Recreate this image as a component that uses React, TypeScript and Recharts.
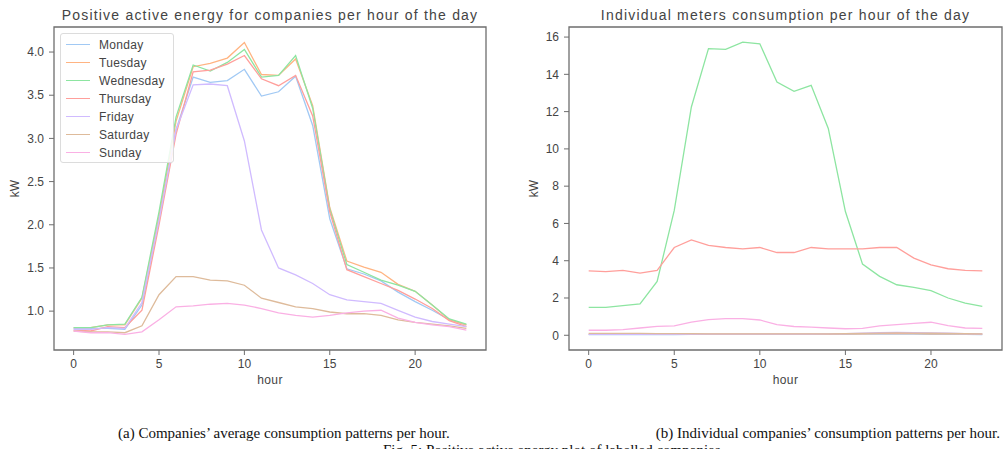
import React from "react"
import { LineChart, Line, XAxis, YAxis, ReferenceArea } from "recharts"

// hours of the day (x axis)
const hours = [0, 1, 2, 3, 4, 5, 6, 7, 8, 9, 10, 11, 12, 13, 14, 15, 16, 17, 18, 19, 20, 21, 22, 23]

// (a) average kW per weekday
const monday = [0.8, 0.8, 0.8, 0.79, 1.07, 2.05, 3.1, 3.71, 3.65, 3.67, 3.8, 3.49, 3.54, 3.72, 3.15, 2.07, 1.49, 1.43, 1.35, 1.22, 1.11, 1.01, 0.9, 0.84]
const tuesday = [0.81, 0.81, 0.84, 0.84, 1.15, 2.1, 3.2, 3.83, 3.87, 3.93, 4.11, 3.74, 3.73, 3.92, 3.38, 2.2, 1.58, 1.51, 1.45, 1.31, 1.23, 1.07, 0.9, 0.84]
const wednesday = [0.81, 0.81, 0.84, 0.85, 1.16, 2.15, 3.25, 3.85, 3.78, 3.88, 4.03, 3.71, 3.73, 3.96, 3.35, 2.18, 1.54, 1.45, 1.36, 1.3, 1.23, 1.07, 0.91, 0.85]
const thursday = [0.78, 0.77, 0.82, 0.81, 1.01, 2.0, 3.05, 3.77, 3.79, 3.86, 3.96, 3.69, 3.61, 3.73, 3.26, 2.15, 1.48, 1.4, 1.32, 1.24, 1.14, 1.03, 0.89, 0.82]
const friday = [0.79, 0.79, 0.81, 0.8, 1.1, 2.05, 3.1, 3.62, 3.63, 3.61, 2.97, 1.94, 1.5, 1.42, 1.32, 1.19, 1.13, 1.11, 1.09, 1.01, 0.93, 0.88, 0.85, 0.82]
const saturday = [0.77, 0.76, 0.76, 0.75, 0.83, 1.19, 1.4, 1.4, 1.36, 1.35, 1.3, 1.15, 1.1, 1.05, 1.03, 0.99, 0.97, 0.97, 0.95, 0.9, 0.87, 0.85, 0.83, 0.8]
const sunday = [0.77, 0.75, 0.75, 0.73, 0.76, 0.9, 1.05, 1.06, 1.08, 1.09, 1.07, 1.03, 0.98, 0.95, 0.93, 0.95, 0.98, 1.0, 1.01, 0.92, 0.87, 0.84, 0.82, 0.78]

// (b) individual meters, kW
const meterBlue = [0.04, 0.04, 0.04, 0.04, 0.04, 0.04, 0.05, 0.05, 0.05, 0.05, 0.05, 0.05, 0.05, 0.05, 0.05, 0.05, 0.06, 0.06, 0.06, 0.06, 0.05, 0.05, 0.05, 0.04]
const meterOrange = [0.06, 0.06, 0.06, 0.06, 0.06, 0.06, 0.06, 0.06, 0.06, 0.06, 0.06, 0.06, 0.06, 0.06, 0.06, 0.07, 0.08, 0.09, 0.09, 0.09, 0.08, 0.07, 0.07, 0.06]
const meterGreen = [1.5, 1.5, 1.59, 1.68, 2.89, 6.7, 12.25, 15.38, 15.34, 15.73, 15.64, 13.59, 13.09, 13.41, 11.1, 6.64, 3.82, 3.16, 2.71, 2.57, 2.39, 2.0, 1.73, 1.55]
const meterRed = [3.46, 3.41, 3.48, 3.34, 3.48, 4.71, 5.12, 4.82, 4.71, 4.64, 4.71, 4.44, 4.44, 4.71, 4.64, 4.64, 4.64, 4.71, 4.71, 4.14, 3.78, 3.57, 3.48, 3.46]
const meterPurple = [0.05, 0.05, 0.05, 0.05, 0.05, 0.05, 0.06, 0.06, 0.06, 0.06, 0.06, 0.06, 0.06, 0.06, 0.07, 0.09, 0.12, 0.14, 0.15, 0.14, 0.13, 0.11, 0.09, 0.08]
const meterBrown = [0.1, 0.1, 0.1, 0.1, 0.09, 0.09, 0.09, 0.08, 0.08, 0.08, 0.08, 0.08, 0.08, 0.08, 0.08, 0.09, 0.1, 0.12, 0.13, 0.12, 0.11, 0.1, 0.09, 0.08]
const meterPink = [0.27, 0.27, 0.3, 0.39, 0.48, 0.5, 0.7, 0.84, 0.89, 0.89, 0.82, 0.57, 0.47, 0.44, 0.39, 0.35, 0.37, 0.5, 0.57, 0.64, 0.7, 0.52, 0.39, 0.37]

const xTicks = [0, 5, 10, 15, 20]
const leftYTicks = [1.0, 1.5, 2.0, 2.5, 3.0, 3.5, 4.0]
const rightYTicks = [0, 2, 4, 6, 8, 10, 12, 14, 16]

// seaborn "pastel"
const C = {
  blue: "#a1c9f4",
  orange: "#ffb482",
  green: "#8de5a1",
  red: "#ff9f9b",
  purple: "#d0bbff",
  brown: "#debb9b",
  pink: "#fab0e4",
}

const daySeries = [
  { key: "monday", name: "Monday", color: C.blue, values: monday },
  { key: "tuesday", name: "Tuesday", color: C.orange, values: tuesday },
  { key: "wednesday", name: "Wednesday", color: C.green, values: wednesday },
  { key: "thursday", name: "Thursday", color: C.red, values: thursday },
  { key: "friday", name: "Friday", color: C.purple, values: friday },
  { key: "saturday", name: "Saturday", color: C.brown, values: saturday },
  { key: "sunday", name: "Sunday", color: C.pink, values: sunday },
]

const meterSeries = [
  { key: "m0", color: C.blue, values: meterBlue },
  { key: "m1", color: C.orange, values: meterOrange },
  { key: "m2", color: C.green, values: meterGreen },
  { key: "m3", color: C.red, values: meterRed },
  { key: "m4", color: C.purple, values: meterPurple },
  { key: "m5", color: C.brown, values: meterBrown },
  { key: "m6", color: C.pink, values: meterPink },
]

const toRows = (series: { key: string; values: number[] }[]) =>
  hours.map((h, i) => {
    const row: Record<string, number> = { hour: h }
    series.forEach((s) => (row[s.key] = s.values[i]))
    return row
  })

const dayRows = toRows(daySeries)
const meterRows = toRows(meterSeries)

const SPINE = "#6e6e6e"
const TEXT = "#444"
const FONT = "'Liberation Sans', Arial, sans-serif"
const xDomain = [-1.15, 24.15]
const leftYDomain = [0.55, 4.29]
const rightYDomain = [-0.79, 16.54]

const tickStyle = { fill: TEXT, fontSize: 12, fontFamily: FONT }

// axes + full box frame, matplotlib style
function axes(yDomain: number[], yTicks: number[], fmt?: (v: number) => string) {
  return [
    <XAxis
      key="xb"
      type="number"
      dataKey="hour"
      domain={xDomain}
      allowDataOverflow
      ticks={xTicks}
      height={40}
      tick={tickStyle}
      tickSize={5}
      tickMargin={4}
      axisLine={false}
      tickLine={{ stroke: SPINE, strokeWidth: 1 }}
    />,
    <YAxis
      key="yl"
      type="number"
      domain={yDomain}
      allowDataOverflow
      ticks={yTicks}
      width={40}
      tick={tickStyle}
      tickSize={5}
      tickMargin={5}
      tickFormatter={fmt}
      axisLine={false}
      tickLine={{ stroke: SPINE, strokeWidth: 1 }}
    />,
    <ReferenceArea
      key="frame"
      x1={xDomain[0]}
      x2={xDomain[1]}
      y1={yDomain[0]}
      y2={yDomain[1]}
      fill="none"
      stroke={SPINE}
      strokeWidth={1.3}
      ifOverflow="visible"
    />,
  ]
}

export default function App() {
  return (
    <div style={{ position: "absolute", left: 0, top: 0, width: 1006, height: 449, background: "#fff", overflow: "hidden", fontFamily: FONT }}>
      <div style={{ position: "absolute", left: 0, top: 0 }}>
        <LineChart width={500} height={400} data={dayRows} margin={{ top: 27, right: 14, left: 14, bottom: 10 }}>
          {axes(leftYDomain, leftYTicks, (v) => v.toFixed(1))}
          {daySeries.map((s) => (
            <Line key={s.key} type="linear" dataKey={s.key} name={s.name} stroke={s.color} strokeWidth={1.3} dot={false} isAnimationActive={false} />
          ))}
        </LineChart>
      </div>

      <div style={{ position: "absolute", left: 500, top: 0 }}>
        <LineChart width={506} height={400} data={meterRows} margin={{ top: 27, right: 4, left: 29, bottom: 10 }}>
          {axes(rightYDomain, rightYTicks)}
          {meterSeries.map((s) => (
            <Line key={s.key} type="linear" dataKey={s.key} stroke={s.color} strokeWidth={1.3} dot={false} isAnimationActive={false} />
          ))}
        </LineChart>
      </div>

      {/* legend of chart (a) */}
      <div
        style={{
          position: "absolute",
          left: 60,
          top: 33,
          width: 112,
          height: 128,
          border: "1px solid #dcdcdc",
          borderRadius: 3,
          background: "rgba(255,255,255,0.85)",
        }}
      >
        {daySeries.map((s, i) => (
          <div key={s.key} style={{ position: "absolute", left: 0, top: 2 + i * 18, height: 18, width: 112 }}>
            <div style={{ position: "absolute", left: 5, top: 8, width: 24, height: 0, borderTop: `1.3px solid ${s.color}` }} />
            <span style={{ position: "absolute", left: 38, top: 1, fontSize: 12, color: TEXT, lineHeight: "16px", letterSpacing: 0.3 }}>{s.name}</span>
          </div>
        ))}
      </div>

      <svg width={1006} height={449} style={{ position: "absolute", left: 0, top: 0, pointerEvents: "none" }}>
        <g fontFamily={FONT} fill={TEXT}>
          <text x={270} y={20} fontSize={14} textAnchor="middle" letterSpacing={1.2}>
            Positive active energy for companies per hour of the day
          </text>
          <text x={785.5} y={20} fontSize={14} textAnchor="middle" letterSpacing={1.2}>
            Individual meters consumption per hour of the day
          </text>
          <text x={270} y={384} fontSize={12} textAnchor="middle" letterSpacing={0.4}>hour</text>
          <text x={785.5} y={384} fontSize={12} textAnchor="middle" letterSpacing={0.4}>hour</text>
          <text x={19} y={188.5} fontSize={12} textAnchor="middle" transform="rotate(-90 19 188.5)">kW</text>
          <text x={537.5} y={188.5} fontSize={12} textAnchor="middle" transform="rotate(-90 537.5 188.5)">kW</text>
        </g>
        <g fontFamily="'Liberation Serif', 'Times New Roman', serif" fill="#111" fontSize={15}>
          <text x={118} y={438}>(a) Companies’ average consumption patterns per hour.</text>
          <text x={1000} y={438} textAnchor="end">(b) Individual companies’ consumption patterns per hour.</text>
          <text x={383} y={455}>Fig. 5: Positive active energy plot of labelled companies</text>
        </g>
      </svg>
    </div>
  )
}
